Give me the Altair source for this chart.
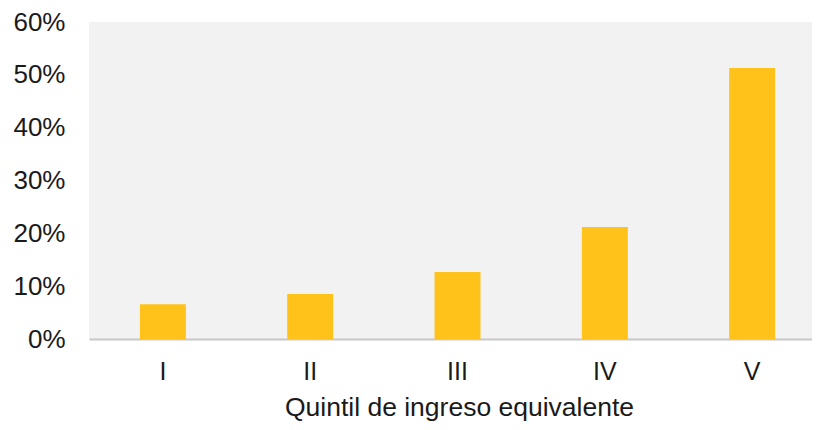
import altair as alt
import pandas as pd

quintiles = ["I", "II", "III", "IV", "V"]
shares = [0.066, 0.085, 0.127, 0.212, 0.513]
y_ticks = [0, 0.1, 0.2, 0.3, 0.4, 0.5, 0.6]

df = pd.DataFrame({"quintil": quintiles, "share": shares})

FONT = "Liberation Sans"

chart = (
    alt.Chart(df)
    .mark_bar(color="#FFC21A")
    .encode(
        x=alt.X(
            "quintil:N",
            sort=quintiles,
            scale=alt.Scale(paddingInner=0.688, paddingOuter=0.298, align=0.58),
            axis=alt.Axis(
                title="Quintil de ingreso equivalente",
                labelAngle=0,
                ticks=False,
                tickSize=0,
                labelPadding=20,
                labelFontSize=25,
                labelFont=FONT,
                labelColor="#1a1a1a",
                titleFontSize=26.5,
                titleFont=FONT,
                titleFontWeight="normal",
                titleColor="#1a1a1a",
                titlePadding=10,
                titleX=370,
                titleAlign="center",
                domainColor="#c8c8c8",
                domainWidth=2,
                grid=False,
            ),
        ),
        y=alt.Y(
            "share:Q",
            scale=alt.Scale(domain=[0, 0.6], nice=False),
            axis=alt.Axis(
                title=None,
                values=y_ticks,
                format=".0%",
                ticks=False,
                tickSize=0,
                domain=False,
                grid=False,
                labelPadding=24,
                labelFontSize=26,
                labelFont=FONT,
                labelColor="#1a1a1a",
            ),
        ),
    )
    .properties(
        width=723,
        height=317,
        background="white",
        autosize=alt.AutoSizeParams(type="none"),
        padding={"left": 81, "top": 14, "right": 0, "bottom": 83},
    )
    .configure_view(fill="#f2f2f2", strokeWidth=0)
)

chart.save("out.html", embed_options={"renderer": "svg", "actions": False})
